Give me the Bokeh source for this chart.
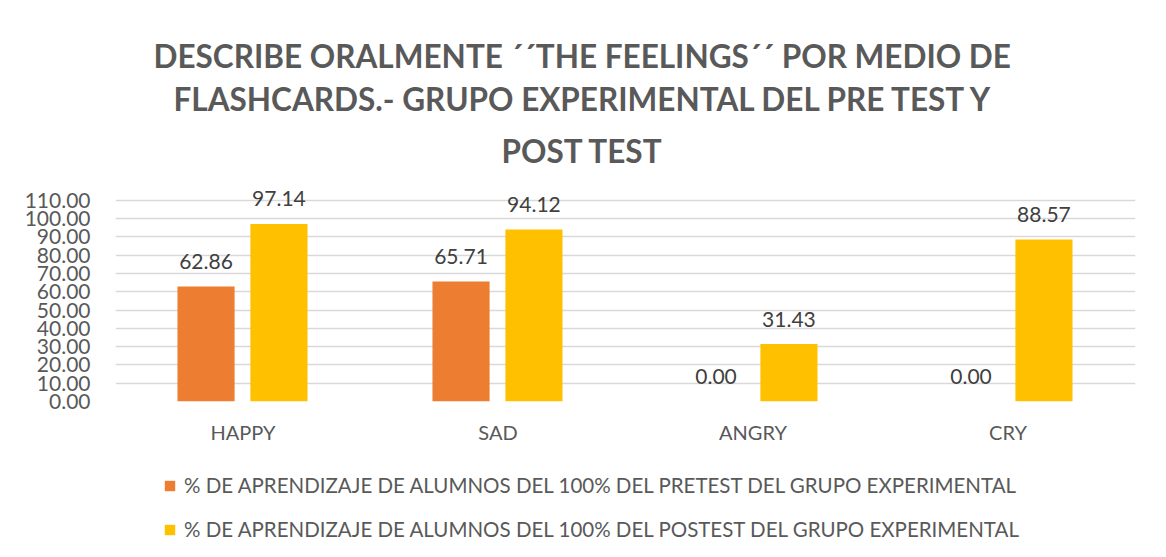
from bokeh.plotting import figure
from bokeh.layouts import column
from bokeh.models import (FactorRange, Range1d, FixedTicker, NumeralTickFormatter,
                          Title, Legend, LegendItem, ColumnDataSource, LabelSet)
from bokeh.transform import dodge
from bokeh.core.properties import value
from bokeh.embed import file_html
from bokeh.resources import INLINE

categories = ["HAPPY", "SAD", "ANGRY", "CRY"]
pretest = [62.86, 65.71, 0.00, 0.00]
postest = [97.14, 94.12, 31.43, 88.57]
y_ticks = [0, 10, 20, 30, 40, 50, 60, 70, 80, 90, 100, 110]
series_names = [
    "% DE APRENDIZAJE DE ALUMNOS DEL 100% DEL PRETEST DEL GRUPO EXPERIMENTAL",
    "% DE APRENDIZAJE DE ALUMNOS DEL 100% DEL POSTEST DEL GRUPO EXPERIMENTAL",
]
title_lines = [
    "DESCRIBE ORALMENTE \u00b4\u00b4THE FEELINGS\u00b4\u00b4 POR MEDIO DE",
    "FLASHCARDS.- GRUPO EXPERIMENTAL DEL PRE TEST Y",
    "POST TEST",
]
colors = ["#ED7D31", "#FFC000"]

FONT = "Lato"
GRAY = "#595959"

src = ColumnDataSource(dict(
    cat=categories, pre=pretest, post=postest,
    pre_lbl=[f"{v:.2f}" for v in pretest],
    post_lbl=[f"{v:.2f}" for v in postest],
))

p = figure(width=1150, height=463, x_range=FactorRange(*categories),
           y_range=Range1d(0, 122), output_backend="svg", toolbar_location=None,
           min_border_left=115, min_border_right=15, min_border_top=178,
           min_border_bottom=62)
p.title = None

standoffs = [1, 5, 18]
offsets = [38, 58, 386]
for line, so, off in reversed(list(zip(title_lines, standoffs, offsets))):
    t = Title(text=line, align="left", text_font=FONT, text_font_size="31.5px",
              text_font_style="bold", text_color=GRAY, standoff=so,
              offset=off)
    p.add_layout(t, "above")

r1 = p.vbar(x=dodge("cat", -0.145, range=p.x_range), top="pre", width=0.224,
            source=src, color=colors[0], line_color=None)
r2 = p.vbar(x=dodge("cat", 0.141, range=p.x_range), top="post", width=0.224,
            source=src, color=colors[1], line_color=None)

for xo, col in ((-0.145, "pre"), (0.141, "post")):
    ls = LabelSet(x=dodge("cat", xo, range=p.x_range), y=col, text=col + "_lbl",
                  source=src, text_align="center", text_baseline="middle",
                  y_offset=25, text_font=value(FONT), text_font_size="21px",
                  text_color="#404040")
    p.add_layout(ls)

p.yaxis.ticker = FixedTicker(ticks=y_ticks)
p.yaxis.formatter = NumeralTickFormatter(format="0.00")
p.yaxis.axis_line_color = None
p.yaxis.major_tick_line_color = None
p.yaxis.minor_tick_line_color = None
p.yaxis.major_label_standoff = 19
p.yaxis.major_label_text_font = FONT
p.yaxis.major_label_text_font_size = "21px"
p.yaxis.major_label_text_color = GRAY

p.xaxis.axis_line_color = None
p.xaxis.major_tick_line_color = None
p.xaxis.major_label_standoff = 12
p.xaxis.major_label_text_font = FONT
p.xaxis.major_label_text_font_size = "20px"
p.xaxis.major_label_text_color = GRAY

p.xgrid.grid_line_color = None
p.ygrid.grid_line_color = "#D9D9D9"
p.ygrid.grid_line_width = 1.5
p.outline_line_color = None
p.x_range.range_padding = 0
p.x_range.group_padding = 0

# legend figure below the chart
lf = figure(width=1150, height=78, x_range=Range1d(0, 1), y_range=Range1d(0, 1),
            output_backend="svg", toolbar_location=None,
            min_border_left=0, min_border_right=0, min_border_top=0,
            min_border_bottom=0)
lf.axis.visible = False
lf.grid.visible = False
lf.outline_line_color = None
lr1 = lf.vbar(x=[0.5], top=[0], bottom=[0], width=0.01, color=colors[0],
              line_color=None)
lr2 = lf.vbar(x=[0.5], top=[0], bottom=[0], width=0.01, color=colors[1],
              line_color=None)
legend = Legend(items=[LegendItem(label=series_names[0], renderers=[lr1]),
                       LegendItem(label=series_names[1], renderers=[lr2])],
                orientation="vertical", location=(48, 0), padding=0, margin=0,
                spacing=20, label_height=20, glyph_width=13, glyph_height=13,
                label_standoff=8, label_text_font=FONT, label_text_font_size="20.5px",
                label_text_color=GRAY, border_line_color=None,
                background_fill_alpha=0)
lf.add_layout(legend)

layout = column(p, lf, spacing=0)
open("out.html", "w").write(file_html(layout, INLINE))
